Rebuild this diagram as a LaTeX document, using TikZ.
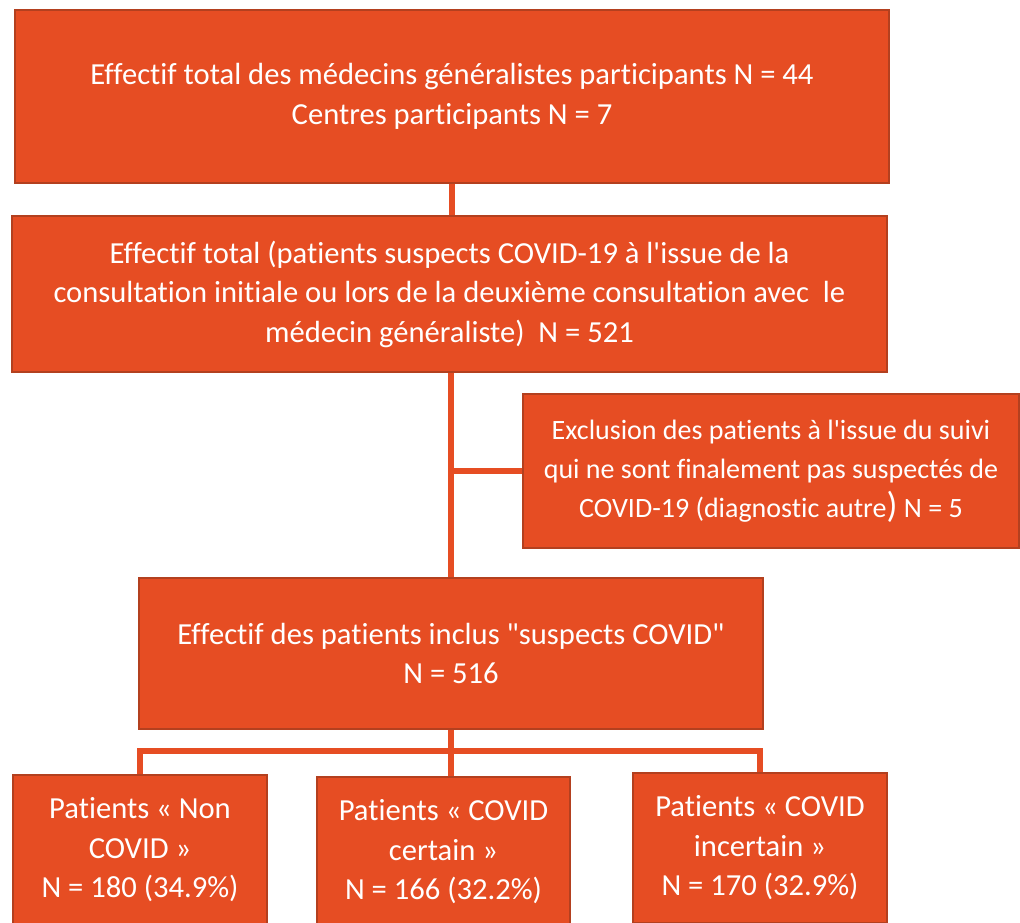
\documentclass[tikz,border=0pt]{standalone}
\usepackage{fontspec}
\newfontfamily\boxfont{Carlito}[Ligatures=NoCommon]
\definecolor{boxfill}{HTML}{E64D23}
\definecolor{boxline}{HTML}{B3401F}

\begin{document}
\begin{tikzpicture}[x=1pt,y=-1pt,
                    box/.style={rectangle,draw=boxline,fill=boxfill,line width=1.5pt,
                      text=white,align=center,inner sep=0pt,
                      font=\boxfont\fontsize{30.6}{39.5}\selectfont},
                    link/.style={draw=boxfill,line width=6pt}]
  \useasboundingbox (0,0) rectangle (1020,922);

  \node[box,minimum width=874,minimum height=173] (total) at (452,96.5)
    {Effectif total des médecins généralistes participants N = 44\\Centres participants N = 7};
  \node[box,minimum width=875,minimum height=156] (cohort) at (449.5,294)
    {Effectif total (patients suspects COVID-19 à l'issue de la\\consultation initiale ou lors de la deuxième consultation avec~ le\\médecin généraliste)~ N = 521};
  \node[box,minimum width=496,minimum height=154,font=\boxfont\fontsize{28}{39}\selectfont] (excl) at (771,471)
    {Exclusion des patients à l'issue du suivi\\qui ne sont finalement pas suspectés de\\COVID-19 (diagnostic autre{\fontsize{36}{39}\selectfont)} N = 5};
  \node[box,minimum width=624,minimum height=151] (incl) at (451,653.5)
    {Effectif des patients inclus "suspects COVID"\\N = 516};
  \node[box,minimum width=254,minimum height=150] (noncov) at (140,850)
    {Patients « Non\\COVID »\\N = 180 (34.9\%)};
  \node[box,minimum width=253,minimum height=150] (certain) at (443.5,852)
    {Patients « COVID\\certain »\\N = 166 (32.2\%)};
  \node[box,minimum width=254,minimum height=150] (incert) at (760,848)
    {Patients « COVID\\incertain »\\N = 170 (32.9\%)};

  \coordinate (bus) at (0,751);

  \draw[link] (total.south) -- (total.south |- cohort.north);
  \draw[link] (incl.north |- cohort.south) -- (incl.north);
  \draw[link] (excl.west -| incl.north) -- (excl.west);
  \draw[link] (incl.south) -- (incl.south |- certain.north);
  \draw[link] (noncov.north) -- (noncov.north |- bus) -- (incert.north |- bus) -- (incert.north);
\end{tikzpicture}
\end{document}
